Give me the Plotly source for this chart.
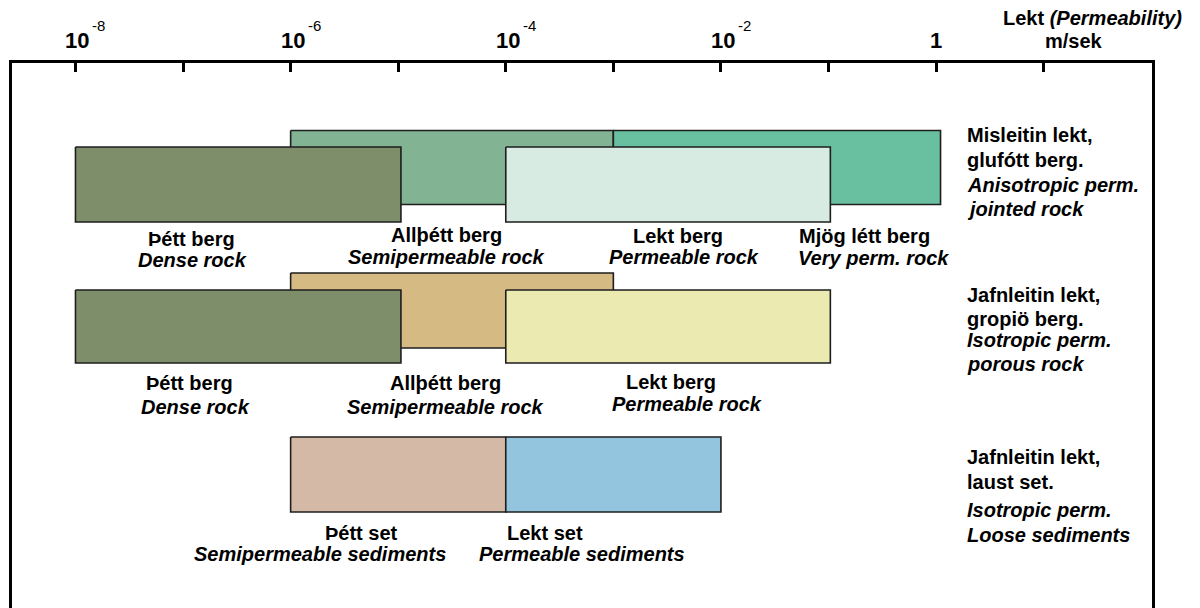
import plotly.graph_objects as go

# ---------------- data ----------------
tick_exponents = [-8, -7, -6, -5, -4, -3, -2, -1, 0, 1]
tick_base_text = ["10", "", "10", "", "10", "", "10", "", "1", ""]
tick_exp_text = ["-8", "", "-6", "", "-4", "", "-2", "", "", ""]

# permeability ranges (m/s) of each box
box_row = [1, 1, 1, 1, 2, 2, 2, 3, 3]
box_layer = ["back", "back", "front", "front", "back", "front", "front", "mid", "mid"]
box_low = [1e-6, 1e-3, 1e-8, 1e-4, 1e-6, 1e-8, 1e-4, 1e-6, 1e-4]
box_high = [1e-3, 1.1, 1.06e-5, 1.04e-1, 1e-3, 1.06e-5, 1.04e-1, 1e-4, 1e-2]
box_name = ["Allþétt berg", "Mjög létt berg", "Þétt berg", "Lekt berg",
            "Allþétt berg", "Þétt berg", "Lekt berg", "Þétt set", "Lekt set"]
box_color = ["#82b393", "#69c0a1", "#7f8e6a", "#d7ebe2",
             "#d5ba84", "#7f8e6a", "#ebebb1", "#d5b9a7", "#93c6de"]

# labels under boxes
lab_bold = ["Þétt berg", "Allþétt berg", "Lekt berg", "Mjög létt berg",
            "Þétt berg", "Allþétt berg", "Lekt berg",
            "Þétt set", "Lekt set"]
lab_ital = ["Dense rock", "Semipermeable rock", "Permeable rock", "Very perm. rock",
            "Dense rock", "Semipermeable rock", "Permeable rock",
            "Semipermeable sediments", "Permeable sediments"]
lab_bold_x = [-6.917, -4.547, -2.401, -0.663, -6.936, -4.557, -2.466, -5.337, -3.637]
lab_ital_x = [-6.908, -4.547, -2.345, -0.579, -6.880, -4.557, -2.317, -5.728, -3.293]

# class descriptions on the right
side_lines = [
    ["Misleitin lekt,", "glufótt berg.", "Anisotropic perm.", "jointed rock"],
    ["Jafnleitin lekt,", "gropiö berg.", "Isotropic perm.", "porous rock"],
    ["Jafnleitin lekt,", "laust set.", "Isotropic perm.", "Loose sediments"],
]

# ---------------- layout positions (y = px below plot top) ----------------
BAND = {(1, "back"): (67.5, 141.5), (1, "front"): (84, 159),
        (2, "back"): (210, 285), (2, "front"): (227, 300),
        (3, "mid"): (374, 449)}
LAB_Y = {1: [(176, 197), (172, 194), (173, 194), (173, 195)],
         2: [(320, 344), (320, 344), (319, 341)],
         3: [(470, 491), (470, 491)]}
SIDE_Y = [[72, 97, 122, 146], [232, 256, 277, 301], [394, 419, 447, 472]]
SIDE_X = 0.267
PLOT_H = 545
FONT = "Liberation Sans"
FS = 20

fig = go.Figure()

for r, layer, lo, hi, nm, col in zip(box_row, box_layer, box_low, box_high, box_name, box_color):
    y0, y1 = BAND[(r, layer)]
    fig.add_trace(go.Scatter(
        x=[lo, hi, hi, lo, lo], y=[y0, y0, y1, y1, y0],
        mode="lines", fill="toself", fillcolor=col,
        line=dict(color="#1e1e1e", width=1.6),
        name=nm, hoveron="fills", showlegend=False))

ann = []
ys = LAB_Y[1] + LAB_Y[2] + LAB_Y[3]
for tb, ti, xb, xi, (yb, yi) in zip(lab_bold, lab_ital, lab_bold_x, lab_ital_x, ys):
    ann.append(dict(x=xb, y=yb, text="<b>%s</b>" % tb, showarrow=False,
                    xanchor="center", yanchor="middle", font=dict(size=FS)))
    ann.append(dict(x=xi, y=yi, text="<b><i>%s</i></b>" % ti, showarrow=False,
                    xanchor="center", yanchor="middle", font=dict(size=FS)))

for lines, yl in zip(side_lines, SIDE_Y):
    for k, (t, y) in enumerate(zip(lines, yl)):
        txt = "<b>%s</b>" % t if k < 2 else "<b><i>%s</i></b>" % t
        ann.append(dict(x=SIDE_X, y=y, text=txt, showarrow=False,
                        xanchor="left", yanchor="middle", font=dict(size=FS)))

# tick labels (above the plot, paper-referenced in y)
for e, tb, te in zip(tick_exponents, tick_base_text, tick_exp_text):
    if tb:
        ann.append(dict(x=e, y=1, yref="paper", text="<b>%s</b>" % tb, showarrow=False,
                        xanchor="center", yanchor="middle",
                        xshift=2 if te else 0, yshift=23, font=dict(size=22)))
    if te:
        ann.append(dict(x=e, y=1, yref="paper", text=te, showarrow=False,
                        xanchor="left", yanchor="middle", xshift=15, yshift=38,
                        font=dict(size=15)))

# axis title
ann.append(dict(x=1.456, y=1, yref="paper", text="<b>Lekt <i>(Permeability)</i></b>",
                showarrow=False, xanchor="center", yanchor="middle", yshift=45,
                font=dict(size=FS)))
ann.append(dict(x=1.280, y=1, yref="paper", text="<b>m/sek</b>", showarrow=False,
                xanchor="center", yanchor="middle", yshift=22, font=dict(size=FS)))

fig.update_layout(
    width=1192, height=600,
    margin=dict(l=4, r=48, t=55, b=0, pad=0),
    paper_bgcolor="white", plot_bgcolor="white",
    font=dict(family=FONT, color="black"),
    annotations=ann,
    showlegend=False,
    xaxis=dict(type="log", range=[-8.590, 2.007], side="top",
               showline=True, linewidth=3, linecolor="black", mirror=False,
               ticks="inside", ticklen=9, tickwidth=3, tickcolor="black",
               tickvals=[10.0 ** e for e in tick_exponents],
               showticklabels=False, showgrid=False, zeroline=False),
    yaxis=dict(range=[PLOT_H, 0], showline=True, linewidth=3, linecolor="black",
               mirror=True, ticks="", showticklabels=False, showgrid=False,
               zeroline=False),
)

fig.write_html("out.html")
